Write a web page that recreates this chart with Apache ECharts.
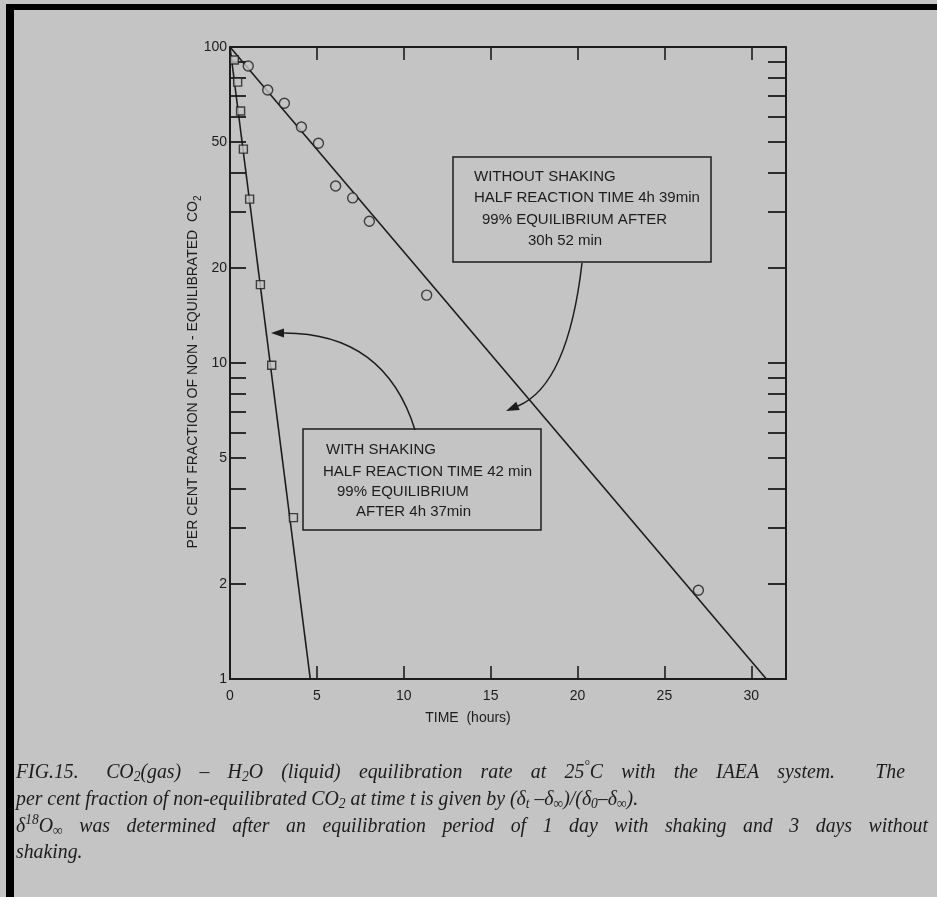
<!DOCTYPE html>
<html lang="en">
<head>
<meta charset="UTF-8">
<title>CO2 equilibration rate</title>
<script src="https://cdn.jsdelivr.net/npm/echarts@6/dist/echarts.min.js"></script>
<style>
  html, body { margin: 0; padding: 0; background: #c4c4c4; }
  #main { width: 937px; height: 897px; }
</style>
</head>
<body>
<div id="main"></div>
<script>
// without shaking (circles): time in hours, per cent non-equilibrated CO2
var noShakeTime = [1.05, 2.17, 3.13, 4.11, 5.09, 6.08, 7.06, 8.02, 11.32, 26.96];
var noShakePct  = [87.1, 73.1, 66.4, 55.8, 49.6, 36.3, 33.3, 28.1, 16.4, 1.91];
// with shaking (squares)
var shakeTime = [0.25, 0.44, 0.61, 0.77, 1.13, 1.75, 2.40, 3.65];
var shakePct  = [91.0, 77.4, 62.7, 47.5, 33.0, 17.7, 9.84, 3.24];
// fitted lines: 100 % at t=0 down to 1 % at the 99% equilibrium time
var noShakeFit = [[0, 100], [30.87, 1]];   // 30h 52min
var shakeFit   = [[0, 100], [4.62, 1]];    // 4h 37min

var xTicks  = [5, 10, 15, 20, 25, 30];
var xLabels = [0, 5, 10, 15, 20, 25, 30];
var yTicks  = [2, 3, 4, 5, 6, 7, 8, 9, 10, 20, 30, 40, 50, 60, 70, 80, 90];
var yLabels = [1, 2, 5, 10, 20, 50, 100];

// caption lines ({sub|..} / {sup|..} = rich text pieces)
var capLine1 = 'FIG.15. CO{sub|2}(gas) – H{sub|2}O (liquid) equilibration rate at 25{sup|°}C with the IAEA system. The';
var capLine2 = 'per cent fraction of non-equilibrated CO{sub|2} at time t is given by (δ{sub|t} –δ{sub|∞})/(δ{sub|0}–δ{sub|∞}).';
var capLine3 = 'δ{sup|18}O{sub|∞} was determined after an equilibration period of 1 day with shaking and 3 days without';
var capLine4 = 'shaking.';

var ink = '#1c1c1c';
var paper = '#c4c4c4';
var sans = 'Liberation Sans';
var serif = 'Liberation Serif';
var capSize = 22, capSmall = 15, capScale = 0.9;

function pairs(xs, ys) {
    var out = [];
    for (var i = 0; i < xs.length; i++) out.push([xs[i], ys[i]]);
    return out;
}

function xAxisDef(pos, showLabels) {
    return {
        type: 'value', position: pos, min: 0, max: 32,
        axisLine: { show: true, onZero: false, lineStyle: { color: ink, width: 2 } },
        axisTick: { show: true, inside: true, length: 13, customValues: xTicks, lineStyle: { color: ink, width: 1.6 } },
        axisLabel: { show: showLabels, customValues: xLabels, color: ink, fontFamily: sans, fontSize: 14, margin: 10 },
        splitLine: { show: false }
    };
}
function yAxisDef(pos, showLabels, len) {
    return {
        type: 'log', logBase: 10, position: pos, min: 1, max: 100,
        axisLine: { show: true, onZero: false, lineStyle: { color: ink, width: 2 } },
        axisTick: { show: true, inside: true, length: len, customValues: yTicks, lineStyle: { color: ink, width: 1.8 } },
        axisLabel: { show: showLabels, customValues: yLabels, color: ink, fontFamily: sans, fontSize: 14, margin: 3 },
        splitLine: { show: false },
        minorTick: { show: false }
    };
}

// arrow = quadratic curve + filled head
function arrow(p0, c, p1) {
    var dx = p1[0] - c[0], dy = p1[1] - c[1];
    var d = Math.sqrt(dx * dx + dy * dy);
    var ux = dx / d, uy = dy / d;
    var L = 13, W = 4.5;
    var bx = p1[0] - ux * L, by = p1[1] - uy * L;
    return [
        { type: 'bezierCurve', shape: { x1: p0[0], y1: p0[1], cpx1: c[0], cpy1: c[1], x2: bx, y2: by },
          style: { stroke: ink, lineWidth: 1.5, fill: null } },
        { type: 'polygon', shape: { points: [p1, [bx - uy * W, by + ux * W], [bx + uy * W, by - ux * W]] },
          style: { fill: ink } }
    ];
}

// caption: justified book text, word by word
var capRich = {
    sub: { fontFamily: serif, fontStyle: 'italic', fontSize: capSmall, lineHeight: 13, verticalAlign: 'bottom', fill: ink },
    sup: { fontFamily: serif, fontStyle: 'italic', fontSize: capSmall, lineHeight: 13, verticalAlign: 'top', fill: ink }
};
var mctx = document.createElement('canvas').getContext('2d');
function plainW(s, size) {
    mctx.font = 'italic ' + size + 'px "' + serif + '"';
    return mctx.measureText(s).width;
}
function wordW(word) {
    var w = 0;
    word.replace(/\{(sub|sup)\|([^}]*)\}|([^{]+)/g, function (m, k, t, plain) {
        w += plain ? plainW(plain, capSize) : plainW(t, capSmall);
        return m;
    });
    return w * capScale;
}
function capWord(x, y, txt) {
    return {
        type: 'text', x: x, y: y, scaleX: capScale,
        style: { text: txt, rich: capRich, fontFamily: serif, fontStyle: 'italic', fontSize: capSize,
                 lineHeight: 26, fill: ink, verticalAlign: 'middle' }
    };
}
// width: justified width, or 0 for natural spacing; weights: per-gap weights
function capLine(y, line, width, weights) {
    var words = line.split(' ');
    var widths = words.map(wordW);
    var total = widths.reduce(function (a, b) { return a + b; }, 0);
    var gaps = words.length - 1;
    var wsum = 0, i;
    for (i = 0; i < gaps; i++) wsum += (weights && weights[i]) || 1;
    var unit = width ? (width - total) / wsum : plainW(' ', capSize) * capScale;
    var out = [], x = 16;
    for (i = 0; i < words.length; i++) {
        out.push(capWord(x, y, words[i]));
        x += widths[i] + unit * ((weights && weights[i]) || 1);
    }
    return out;
}

function boxText(x, y, txt) {
    return { type: 'text', x: x, y: y, style: { text: txt, fontFamily: sans, fontSize: 15, fill: ink, verticalAlign: 'middle' } };
}

var graphics = [
    // scanned page border
    { type: 'rect', shape: { x: 6, y: 4, width: 931, height: 6 }, style: { fill: '#000' } },
    { type: 'rect', shape: { x: 6, y: 4, width: 8, height: 893 }, style: { fill: '#000' } },
    // y axis title
    { type: 'text', x: 193, y: 372, rotation: Math.PI / 2,
      style: { text: 'PER CENT FRACTION OF NON - EQUILIBRATED  CO{s|2}', fontFamily: sans, fontSize: 14, fill: ink,
               align: 'center', verticalAlign: 'middle', lineHeight: 20,
               rich: { s: { fontFamily: sans, fontSize: 10, lineHeight: 10, verticalAlign: 'bottom', fill: ink } } } },
    // x axis title
    { type: 'text', x: 468, y: 718, style: { text: 'TIME  (hours)', fontFamily: sans, fontSize: 14, fill: ink, align: 'center', verticalAlign: 'middle' } },
    // annotation boxes
    { type: 'rect', shape: { x: 453, y: 157, width: 258, height: 105 }, style: { fill: null, stroke: ink, lineWidth: 1.5 } },
    boxText(474, 177, 'WITHOUT SHAKING'),
    boxText(474, 198, 'HALF REACTION TIME 4h 39min'),
    boxText(482, 220, '99% EQUILIBRIUM AFTER'),
    boxText(528, 241, '30h 52 min'),
    { type: 'rect', shape: { x: 303, y: 429, width: 238, height: 101 }, style: { fill: null, stroke: ink, lineWidth: 1.5 } },
    boxText(326, 450, 'WITH SHAKING'),
    boxText(323, 472, 'HALF REACTION TIME 42 min'),
    boxText(337, 492, '99% EQUILIBRIUM'),
    boxText(356, 512, 'AFTER 4h 37min')
].concat(capLine(772, capLine1, 889, [1.5, 1, 1, 1, 1, 1, 1, 1, 1, 1, 1, 1, 2.2]))
 .concat(capLine(799, capLine2, 0))
 .concat(capLine(826, capLine3, 912))
 .concat(capLine(852, capLine4, 0))
 .concat(arrow([582, 263], [568, 385], [506, 411]))
 .concat(arrow([415, 430], [385, 333], [271, 333]));

var chart = echarts.init(document.getElementById('main'), null, { renderer: 'canvas' });
chart.setOption({
    animation: false,
    backgroundColor: paper,
    grid: { left: 230, top: 47, width: 556, height: 632, containLabel: false },
    xAxis: [xAxisDef('bottom', true), xAxisDef('top', false)],
    yAxis: [yAxisDef('left', true, 16), yAxisDef('right', false, 18)],
    series: [
        { name: 'fit without shaking', type: 'line', data: noShakeFit, showSymbol: false, symbol: 'none',
          lineStyle: { color: ink, width: 1.6 }, z: 2 },
        { name: 'fit with shaking', type: 'line', data: shakeFit, showSymbol: false, symbol: 'none',
          lineStyle: { color: ink, width: 1.6 }, z: 2 },
        { name: 'without shaking', type: 'scatter', data: pairs(noShakeTime, noShakePct), symbol: 'circle', symbolSize: 10,
          itemStyle: { color: paper, borderColor: ink, borderWidth: 1.4 }, z: 3 },
        { name: 'with shaking', type: 'scatter', data: pairs(shakeTime, shakePct), symbol: 'rect', symbolSize: 8,
          itemStyle: { color: paper, borderColor: ink, borderWidth: 1.4 }, z: 3 }
    ],
    graphic: graphics
});
</script>
</body>
</html>
